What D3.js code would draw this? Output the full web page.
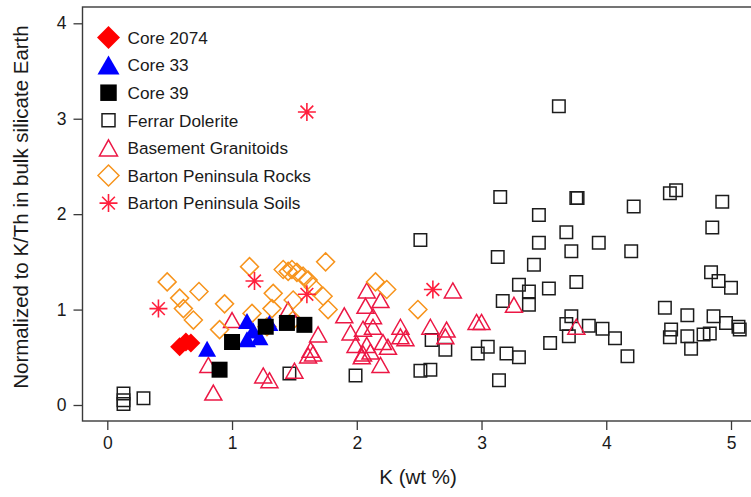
<!DOCTYPE html>
<html>
<head>
<meta charset="utf-8">
<script src="https://cdn.jsdelivr.net/npm/d3@7"></script>
<style>
  html, body { margin: 0; padding: 0; background: #fff; }
  svg { display: block; font-family: "Liberation Sans", Arial, Helvetica, sans-serif; }
</style>
</head>
<body>
<svg id="chart" width="751" height="497"></svg>
<script>
// K (wt %) versus K/Th normalised to bulk silicate Earth
const ferrarK  = [0.13,0.13,0.13,0.29,1.46,1.99,2.51,2.60,2.71,2.51,2.59,2.97,3.05,3.14,3.20,3.30,3.13,3.15,3.17,3.30,3.38,3.38,3.42,3.46,3.46,3.54,3.55,3.62,3.76,3.77,3.68,3.72,3.94,4.20,4.22,4.51,4.56,4.93,4.85,3.76,4.84,4.90,5.00,4.47,4.65,4.86,4.96,5.06,5.07,4.52,4.51,4.65,4.68,4.78,4.83,3.72,3.68,3.70,3.86,3.97,4.07,4.17];
const ferrarKTh = [0.12,0.05,0.01,0.07,0.33,0.31,1.73,0.68,0.58,0.36,0.37,0.54,0.61,0.26,0.54,0.50,1.55,2.18,1.09,1.26,1.19,1.05,1.47,1.70,1.99,1.22,0.65,3.13,2.17,2.17,1.81,1.61,1.70,1.61,2.08,2.22,2.25,2.13,1.86,1.29,1.39,1.30,1.23,1.02,0.94,0.93,0.86,0.82,0.79,0.79,0.71,0.72,0.59,0.74,0.75,0.93,0.85,0.72,0.83,0.80,0.70,0.51];

const granitoidK  = [0.81,0.85,1.00,1.25,1.30,1.45,1.50,1.69,1.63,1.61,1.65,1.90,1.95,1.99,2.04,2.08,2.07,2.19,2.05,2.13,2.13,2.08,2.05,2.11,2.21,2.25,2.19,2.35,2.35,2.39,2.59,2.72,2.71,2.77,2.96,3.00,3.26,3.76];
const granitoidKTh = [0.42,0.13,0.89,0.31,0.26,1.00,0.36,0.74,0.58,0.52,0.54,0.94,0.76,0.63,0.51,1.20,1.04,1.10,0.80,0.93,0.82,0.63,0.54,0.56,0.66,0.61,0.42,0.82,0.72,0.70,0.82,0.79,0.72,1.20,0.87,0.87,1.05,0.82];

const rocksK  = [0.48,0.58,0.61,0.69,0.735,0.94,0.90,1.14,1.16,1.33,1.32,1.28,1.41,1.45,1.48,1.52,1.57,1.61,1.49,1.65,1.73,1.77,1.75,1.49,2.15,2.24,2.49];
const rocksKTh = [1.29,1.12,1.01,0.89,1.19,1.06,0.79,1.45,0.96,1.17,1.01,0.82,1.42,1.40,1.42,1.39,1.35,1.31,1.10,1.24,1.14,1.00,1.50,0.89,1.29,1.21,1.00];

const soilsK  = [0.41,1.18,1.60,1.60,2.61];
const soilsKTh = [1.01,1.30,1.16,3.07,1.21];

const core2074K  = [0.58,0.63,0.67];
const core2074KTh = [0.61,0.66,0.65];

const core33K  = [0.80,1.12,1.12,1.17,1.22,1.30];
const core33KTh = [0.59,0.88,0.69,0.78,0.71,0.86];

const core39K  = [0.90,1.00,1.27,1.44,1.58];
const core39KTh = [0.37,0.66,0.82,0.86,0.84];

const xTicks = [0,1,2,3,4,5];
const yTicks = [0,1,2,3,4];
const xTitle = "K (wt %)";
const yTitle = "Normalized to K/Th in bulk silicate Earth";

// symbol path builders (centred on 0,0)
const shapes = {
  square: s => `M${-s/2},${-s/2}H${s/2}V${s/2}H${-s/2}Z`,
  diamond: s => `M0,${-s/2}L${s/2},0L0,${s/2}L${-s/2},0Z`,
  triangle: (w, h) => `M0,${-h/2}L${w/2},${h/2}L${-w/2},${h/2}Z`,
  asterisk: r => {
    const a = r * Math.SQRT1_2;
    return `M0,${-r}V${r}M${-r},0H${r}M${-a},${-a}L${a},${a}M${-a},${a}L${a},${-a}`;
  }
};

const series = [
  { name: "Ferrar Dolerite", k: ferrarK, v: ferrarKTh, path: shapes.square(12.5), fill: "none", stroke: "#1c1c1c", sw: 1.5,
    legendPath: shapes.square(13) },
  { name: "Basement Granitoids", k: granitoidK, v: granitoidKTh, path: shapes.triangle(17, 15), fill: "none", stroke: "#ec1744", sw: 1.5,
    legendPath: shapes.triangle(18, 16) },
  { name: "Barton Peninsula Rocks", k: rocksK, v: rocksKTh, path: shapes.diamond(18), fill: "none", stroke: "#f7941d", sw: 1.5,
    legendPath: shapes.diamond(21) },
  { name: "Barton Peninsula Soils", k: soilsK, v: soilsKTh, path: shapes.asterisk(9), fill: "none", stroke: "#ff1f3d", sw: 1.6,
    legendPath: shapes.asterisk(9) },
  { name: "Core 2074", k: core2074K, v: core2074KTh, path: shapes.diamond(19), fill: "#ff0000", stroke: "none", sw: 0,
    legendPath: shapes.diamond(23) },
  { name: "Core 33", k: core33K, v: core33KTh, path: shapes.triangle(18, 16), fill: "#0000ff", stroke: "none", sw: 0,
    legendPath: shapes.triangle(22, 19) },
  { name: "Core 39", k: core39K, v: core39KTh, path: shapes.square(16), fill: "#000000", stroke: "none", sw: 0,
    legendPath: shapes.square(16.5) }
];

const legendOrder = ["Core 2074", "Core 33", "Core 39", "Ferrar Dolerite", "Basement Granitoids", "Barton Peninsula Rocks", "Barton Peninsula Soils"];

const svg = d3.select("#chart");
const frame = { left: 82.5, top: 7, right: 760, bottom: 421 };

const x = d3.scaleLinear().domain([0, 5]).range([107.3, 731]);
const y = d3.scaleLinear().domain([0, 4]).range([405, 23.3]);

// plot frame
svg.append("rect")
  .attr("x", frame.left).attr("y", frame.top)
  .attr("width", frame.right - frame.left).attr("height", frame.bottom - frame.top)
  .attr("fill", "none").attr("stroke", "#3a3a3a").attr("stroke-width", 1.4);

// axes
const gx = svg.append("g").attr("transform", `translate(0,${frame.bottom})`)
  .call(d3.axisBottom(x).tickValues(xTicks).tickSize(9).tickPadding(7).tickFormat(d3.format("d")));
const gy = svg.append("g").attr("transform", `translate(${frame.left},0)`)
  .call(d3.axisLeft(y).tickValues(yTicks).tickSize(9).tickPadding(7).tickFormat(d3.format("d")));
[gx, gy].forEach(g => {
  g.select(".domain").remove();
  g.selectAll(".tick line").attr("stroke", "#3a3a3a").attr("stroke-width", 1.3);
  g.selectAll(".tick text").attr("fill", "#1a1a1a").attr("font-size", 17.5)
    .attr("font-family", "'Liberation Sans', Arial, sans-serif");
});

// axis titles
svg.append("text").attr("x", 418).attr("y", 484).attr("text-anchor", "middle")
  .attr("font-size", 20.5).attr("fill", "#1a1a1a").text(xTitle);
svg.append("text").attr("transform", "translate(28,207) rotate(-90)").attr("text-anchor", "middle")
  .attr("font-size", 20.5).attr("fill", "#1a1a1a").text(yTitle);

// data points
const plot = svg.append("g");
series.forEach(s => {
  plot.append("g").selectAll("path")
    .data(s.k.map((k, i) => ({ k, v: s.v[i] })))
    .join("path")
    .attr("transform", d => `translate(${x(d.k)},${y(d.v)})`)
    .attr("d", s.path)
    .attr("fill", s.fill)
    .attr("stroke", s.stroke)
    .attr("stroke-width", s.sw);
});

// legend
const legend = svg.append("g");
legendOrder.forEach((name, i) => {
  const s = series.find(d => d.name === name);
  const cy = 37.5 + i * 27.6;
  legend.append("path")
    .attr("transform", `translate(108.5,${cy})`)
    .attr("d", s.legendPath)
    .attr("fill", s.fill).attr("stroke", s.stroke).attr("stroke-width", s.sw);
  legend.append("text")
    .attr("x", 127.5).attr("y", cy + 6.2)
    .attr("font-size", 17.2).attr("fill", "#1a1a1a").text(name);
});
</script>
</body>
</html>
